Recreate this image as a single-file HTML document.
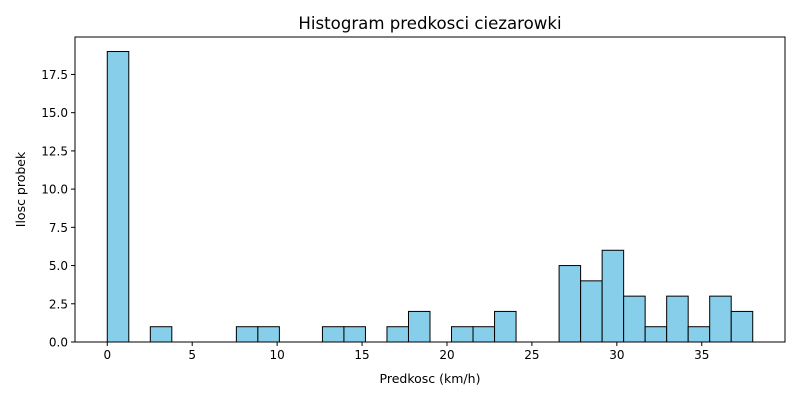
<!DOCTYPE html>
<html><head><meta charset="utf-8"><style>
body{margin:0;background:#fff;}
svg text{font-family:"DejaVu Sans","Liberation Sans",sans-serif;fill:#000;}
</style></head><body>
<svg id="chart" width="800" height="400" xmlns="http://www.w3.org/2000/svg">
<rect width="800" height="400" fill="#fff"/>
<text x="430" y="29" font-size="16.6" text-anchor="middle">Histogram predkosci ciezarowki</text>
<g id="bars"></g>
<g id="xticks"></g>
<g id="yticks"></g>
<rect x="75" y="37" width="710" height="305" fill="none" stroke="#000" stroke-width="1"/>
<text x="430" y="383" font-size="12.5" text-anchor="middle">Predkosc (km/h)</text>
<text x="0" y="0" font-size="12.5" text-anchor="middle" transform="translate(25,189.5) rotate(-90)">Ilosc probek</text>
</svg>
<script>
const binStart = 0;
const binEnd = 38;
const counts = [19,0,1,0,0,0,1,1,0,0,1,1,0,1,2,0,1,1,2,0,0,5,4,6,3,1,3,1,3,2];
const xTicks = [0,5,10,15,20,25,30,35];
const yTicks = [0,2.5,5,7.5,10,12.5,15,17.5];
const yTickLabels = ["0.0","2.5","5.0","7.5","10.0","12.5","15.0","17.5"];

const NS="http://www.w3.org/2000/svg";
const L=75,R=785,T=37,B=342;
const xmin=-1.9,xmax=39.9,ymax=19.95;
const sx=v=>L+(v-xmin)/(xmax-xmin)*(R-L);
const sy=v=>B-v/ymax*(B-T);
function mk(tag,attrs,parent){const e=document.createElementNS(NS,tag);for(const k in attrs)e.setAttribute(k,attrs[k]);parent.appendChild(e);return e;}
const bars=document.getElementById('bars');
const w=(binEnd-binStart)/counts.length;
counts.forEach((c,i)=>{
  if(c<=0)return;
  const x0=sx(binStart+i*w),x1=sx(binStart+(i+1)*w);
  const r=mk('rect',{x:x0,y:sy(c),width:x1-x0,height:sy(0)-sy(c),fill:'#87ceeb',stroke:'#000','stroke-width':1},bars);
  
  
});
const xt=document.getElementById('xticks');
xTicks.forEach(v=>{
  const x=sx(v);
  const l=mk('line',{x1:x,x2:x,y1:B,y2:B+4,stroke:'#000'},xt);
  
  
  const t=mk('text',{x:x,y:B+17,'font-size':12,'text-anchor':'middle'},xt);
  t.textContent=v;
  
  
});
const yt=document.getElementById('yticks');
yTicks.forEach((v,i)=>{
  const y=sy(v);
  const l=mk('line',{x1:L-4,x2:L,y1:y,y2:y,stroke:'#000'},yt);
  
  
  const t=mk('text',{x:L-7,y:y+4.5,'font-size':12,'text-anchor':'end'},yt);
  t.textContent=yTickLabels[i];
  
  
});
</script>
</body></html>
